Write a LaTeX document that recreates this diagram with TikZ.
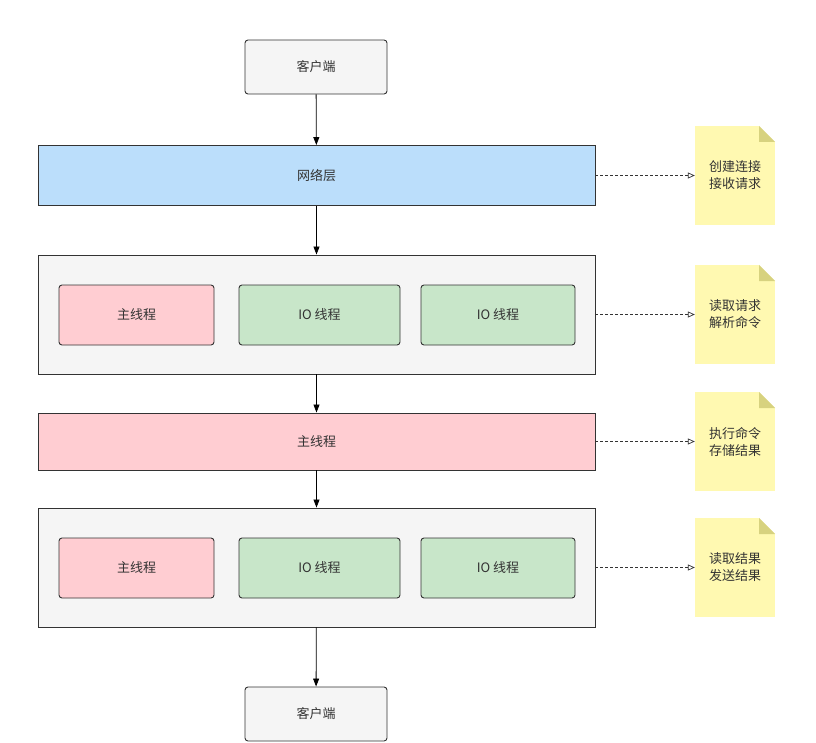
\documentclass[tikz,border=0pt]{standalone}
\usepackage{fontspec}
\setmainfont{Noto Sans CJK SC}
\usetikzlibrary{arrows.meta}

\definecolor{linegray}{HTML}{333333}
\definecolor{textgray}{HTML}{333333}
\definecolor{clientfill}{HTML}{F5F5F5}
\definecolor{netblue}{HTML}{BBDEFB}
\definecolor{mainpink}{HTML}{FFCDD2}
\definecolor{iogreen}{HTML}{C8E6C9}
\definecolor{noteyellow}{HTML}{FFF9B1}
\definecolor{notefold}{HTML}{D7D27F}

\tikzset{
  layer/.style={draw=linegray, fill=clientfill, line width=0.9pt, minimum width=557pt, font=\fontsize{13}{15}\selectfont, text=textgray},
  roundbox/.style={draw=linegray, line width=0.9pt, rounded corners=3pt, minimum height=60pt, font=\fontsize{13}{15}\selectfont, text=textgray},
  note/.style={fill=noteyellow, minimum width=80pt, minimum height=99pt, inner sep=0pt, align=center,
    font=\fontsize{13}{17}\selectfont, text=textgray,
    path picture={
      \fill[white] ([xshift=-16pt]path picture bounding box.north east) -- (path picture bounding box.north east) -- ([yshift=-16pt]path picture bounding box.north east) -- cycle;
      \fill[notefold] ([xshift=-16pt]path picture bounding box.north east) -- ([yshift=-16pt]path picture bounding box.north east) -- ([xshift=-16pt,yshift=-16pt]path picture bounding box.north east) -- cycle;
    }},
  flow/.style={-{Triangle[length=8pt,width=6pt]}, draw=black, line width=0.8pt},
  hint/.style={-{Triangle[open,length=7pt,width=6pt]}, draw=linegray, dashed, dash pattern=on 3pt off 2pt, line width=0.7pt},
}

\begin{document}
\begin{tikzpicture}[x=1pt, y=-1pt]
    \useasboundingbox (0,0) rectangle (816,743);

    % Clients
    \node[roundbox, fill=clientfill, minimum width=142pt, minimum height=54pt] (clientin) at (316,67) {客户端};
    \node[roundbox, fill=clientfill, minimum width=142pt, minimum height=54pt] (clientout) at (316,714) {客户端};

    % Network layer
    \node[layer, fill=netblue, minimum height=60pt] (net) at (316.5,175.5) {网络层};

    % Read and parse
    \node[layer, minimum height=119pt] (readlayer) at (316.5,314.5) {};
    \node[roundbox, fill=mainpink, minimum width=155pt] (readmain) at (136.5,315) {主线程};
    \node[roundbox, fill=iogreen, minimum width=161pt] (readioa) at (319.5,315) {IO 线程};
    \node[roundbox, fill=iogreen, minimum width=154pt] (readiob) at (498,315) {IO 线程};

    % Execute
    \node[layer, fill=mainpink, minimum height=57pt] (exec) at (316.5,441.5) {主线程};

    % Write back
    \node[layer, minimum height=119pt] (writelayer) at (316.5,567.5) {};
    \node[roundbox, fill=mainpink, minimum width=155pt] (writemain) at (136.5,568) {主线程};
    \node[roundbox, fill=iogreen, minimum width=161pt] (writeioa) at (319.5,568) {IO 线程};
    \node[roundbox, fill=iogreen, minimum width=154pt] (writeiob) at (498,568) {IO 线程};

    % Notes
    \node[note] (notenet) at (735,175.5) {创建连接\\接收请求};
    \node[note] (noteread) at (735,314.5) {读取请求\\解析命令};
    \node[note] (noteexec) at (735,441.5) {执行命令\\存储结果};
    \node[note] (notewrite) at (735,567.5) {读取结果\\发送结果};

    % Main flow
    \draw[flow] (clientin) -- (net);
    \draw[flow] (net) -- (readlayer);
    \draw[flow] (readlayer) -- (exec);
    \draw[flow] (exec) -- (writelayer);
    \draw[flow] (writelayer) -- (clientout);

    % Hints
    \draw[hint] (net.east) -- (notenet.west);
    \draw[hint] (readlayer.east) -- (noteread.west);
    \draw[hint] (exec.east) -- (noteexec.west);
    \draw[hint] (writelayer.east) -- (notewrite.west);

\end{tikzpicture}
\end{document}
